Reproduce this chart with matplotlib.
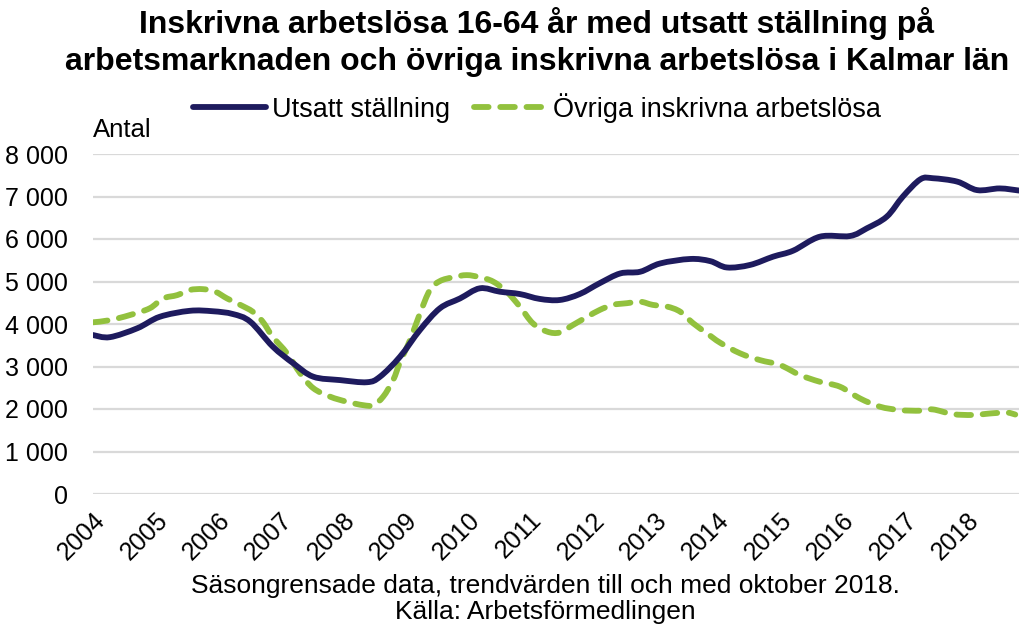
import matplotlib
matplotlib.use("Agg")
import matplotlib.pyplot as plt
from matplotlib.ticker import FuncFormatter
from matplotlib.path import Path
from matplotlib.patches import PathPatch
from matplotlib.lines import Line2D
import matplotlib.transforms as mtransforms

plt.rcParams['font.family'] = ['Liberation Sans', 'DejaVu Sans']

# Data (fractional year, number of registered unemployed)
utsatt_x = [2004.00, 2004.27, 2004.71, 2005.07, 2005.55, 2005.92, 2006.24, 2006.52, 2006.88,
            2007.21, 2007.53, 2007.96, 2008.39, 2008.60, 2008.92, 2009.24, 2009.56, 2009.88,
            2010.20, 2010.52, 2010.84, 2011.16, 2011.48, 2011.80, 2012.12, 2012.45, 2012.77,
            2013.09, 2013.57, 2013.89, 2014.16, 2014.53, 2014.90, 2015.22, 2015.65, 2016.13,
            2016.40, 2016.72, 2016.98, 2017.26, 2017.46, 2017.85, 2018.17, 2018.53, 2018.84]
utsatt_y = [3740, 3690, 3900, 4170, 4310, 4300, 4235, 4055, 3470,
            3075, 2760, 2680, 2630, 2760, 3230, 3860, 4370, 4600,
            4840, 4760, 4705, 4590, 4565, 4705, 4960, 5190, 5230,
            5425, 5530, 5480, 5330, 5390, 5585, 5725, 6055, 6070,
            6250, 6525, 7000, 7405, 7430, 7350, 7150, 7190, 7140]

ovriga_x = [2004.00, 2004.27, 2004.59, 2004.91, 2005.12, 2005.35, 2005.55, 2005.76, 2005.96,
            2006.15, 2006.36, 2006.56, 2006.72, 2006.88, 2007.11, 2007.32, 2007.53, 2007.80,
            2008.07, 2008.33, 2008.49, 2008.65, 2008.81, 2008.92, 2009.08, 2009.24, 2009.40,
            2009.56, 2009.77, 2009.99, 2010.20, 2010.41, 2010.63, 2010.84, 2011.05, 2011.28,
            2011.48, 2011.69, 2011.92, 2012.12, 2012.33, 2012.56, 2012.77, 2012.97, 2013.20,
            2013.41, 2013.62, 2013.84, 2014.05, 2014.37, 2014.69, 2015.01, 2015.33, 2015.65,
            2015.97, 2016.29, 2016.61, 2016.93, 2017.26, 2017.46, 2017.78, 2018.10, 2018.42,
            2018.65, 2018.78]
ovriga_y = [4040, 4090, 4210, 4370, 4600, 4680, 4800, 4820, 4760,
            4600, 4450, 4290, 4055, 3700, 3310, 2840, 2490, 2290,
            2170, 2090, 2090, 2290, 2680, 3100, 3620, 4250, 4800,
            5010, 5100, 5150, 5100, 5000, 4760, 4410, 4015, 3820,
            3800, 3975, 4170, 4330, 4450, 4490, 4525, 4450, 4410,
            4290, 4015, 3780, 3560, 3310, 3150, 3035, 2800, 2640,
            2525, 2250, 2055, 1975, 1960, 1990, 1880, 1860, 1900,
            1915, 1870]

year_ticks = list(range(2004, 2019))
y_ticks = list(range(0, 8001, 1000))

title = "Inskrivna arbetslösa 16-64 år med utsatt ställning på\narbetsmarknaden och övriga inskrivna arbetslösa i Kalmar län"
label_utsatt = "Utsatt ställning"
label_ovriga = "Övriga inskrivna arbetslösa"
footer = "Säsongrensade data, trendvärden till och med oktober 2018.\nKälla: Arbetsförmedlingen"

navy = "#1e1b5e"
green = "#92c13e"


def smooth_path(xs, ys):
    """Excel-style smoothed line: cubic Bezier segments through the data points."""
    pts = list(zip(xs, ys))
    n = len(pts)
    verts = [pts[0]]
    codes = [Path.MOVETO]
    for i in range(n - 1):
        p0 = pts[i - 1] if i > 0 else pts[i]
        p1 = pts[i]
        p2 = pts[i + 1]
        p3 = pts[i + 2] if i + 2 < n else pts[i + 1]
        c1 = (p1[0] + (p2[0] - p0[0]) / 6, p1[1] + (p2[1] - p0[1]) / 6)
        c2 = (p2[0] - (p3[0] - p1[0]) / 6, p2[1] - (p3[1] - p1[1]) / 6)
        verts += [c1, c2, p2]
        codes += [Path.CURVE4] * 3
    return Path(verts, codes)


fig = plt.figure(figsize=(10.19, 6.29), dpi=100)
ax = fig.add_axes([93/1019, 1 - 494/629, (1019 - 93)/1019, (494 - 154)/629])

lw = 4.2
green_dash = (0, (2.5, 2.0))
p1 = PathPatch(smooth_path(utsatt_x, utsatt_y), fill=False, edgecolor=navy, lw=lw,
               capstyle='round', joinstyle='round', zorder=3)
p2 = PathPatch(smooth_path(ovriga_x, ovriga_y), fill=False, edgecolor=green, lw=lw,
               linestyle=green_dash, capstyle='round', joinstyle='round', zorder=2)
ax.add_patch(p2)
ax.add_patch(p1)

ax.set_xlim(2004, 2018.84)
ax.set_ylim(0, 8000)
ax.set_yticks(y_ticks)
ax.yaxis.set_major_formatter(FuncFormatter(lambda v, p: f"{int(v):,}".replace(",", " ")))
ax.set_xticks(year_ticks)
ax.set_xticklabels([str(y) for y in year_ticks], rotation=45, ha='right', rotation_mode='anchor')
offset = mtransforms.ScaledTranslation(8/100, 0, fig.dpi_scale_trans)
for lab in ax.get_xticklabels():
    lab.set_transform(lab.get_transform() + offset)

ax.grid(axis='y', color='#d9d9d9', lw=1.6, zorder=0)
ax.set_axisbelow(True)
for s in ax.spines.values():
    s.set_visible(False)
ax.tick_params(axis='both', length=0, labelsize=18, colors='black')
ax.tick_params(axis='y', pad=18)
ax.tick_params(axis='x', pad=10)

fig.text(93/1019, 1 - 130/629, "Antal", fontsize=18.5, ha='left', va='center')
fig.text(0.527, 1 - 42/629, title, fontsize=23, fontweight='bold', ha='center', va='center',
         linespacing=1.3)
fig.text(0.535, 1 - 599/629, footer, fontsize=19, ha='center', va='center', linespacing=1.12)

handles = [Line2D([], [], color=navy, lw=lw, solid_capstyle='round'),
           Line2D([], [], color=green, lw=lw, linestyle=green_dash, dash_capstyle='round')]
fig.legend(handles, [label_utsatt, label_ovriga], loc='center',
           bbox_to_anchor=(0.527, 1 - 108/629), ncol=2, frameon=False,
           fontsize=19.5, handlelength=2.7, handletextpad=0.2, columnspacing=0.9)

fig.savefig("out.png", dpi=100)
